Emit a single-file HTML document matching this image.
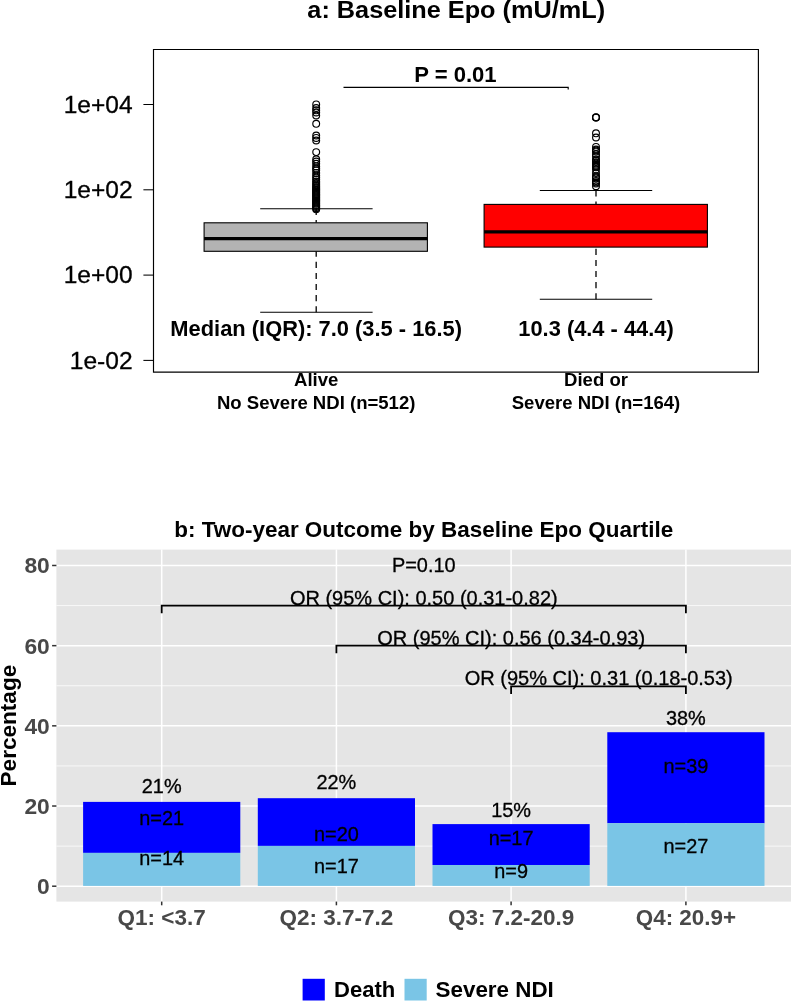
<!DOCTYPE html>
<html><head><meta charset="utf-8"><title>Figure</title>
<style>
html,body{margin:0;padding:0;background:#fff;}
body{width:791px;height:1002px;overflow:hidden;font-family:"Liberation Sans",sans-serif;}
svg{display:block;will-change:transform;}
svg text{font-family:"Liberation Sans",sans-serif;fill:#000;stroke:#000;stroke-width:0.3px;}
svg text.b{font-weight:bold;stroke:none;}
</style></head>
<body>
<svg width="791" height="1002" viewBox="0 0 791 1002">
<rect width="791" height="1002" fill="#fff"/>
<g id="top">
<text x="456.2" y="18.2" text-anchor="middle" font-size="24.8" class="b" textLength="297.74" lengthAdjust="spacingAndGlyphs">a: Baseline Epo (mU/mL)</text>
<path d="M153.5 49.5 H758.4 V372.1 H153.5 Z" fill="none" stroke="#000" stroke-width="1.15"/>
<line x1="143.4" x2="153.5" y1="104.5" y2="104.5" stroke="#000" stroke-width="1.05"/>
<text x="132.6" y="112.6" text-anchor="end" font-size="24.1" textLength="68.89" lengthAdjust="spacingAndGlyphs">1e+04</text>
<line x1="143.4" x2="153.5" y1="189.8" y2="189.8" stroke="#000" stroke-width="1.05"/>
<text x="132.6" y="197.9" text-anchor="end" font-size="24.1" textLength="68.89" lengthAdjust="spacingAndGlyphs">1e+02</text>
<line x1="143.4" x2="153.5" y1="275.1" y2="275.1" stroke="#000" stroke-width="1.05"/>
<text x="132.6" y="283.2" text-anchor="end" font-size="24.1" textLength="68.89" lengthAdjust="spacingAndGlyphs">1e+00</text>
<line x1="143.4" x2="153.5" y1="360.4" y2="360.4" stroke="#000" stroke-width="1.05"/>
<text x="132.6" y="368.5" text-anchor="end" font-size="24.1" textLength="62.84" lengthAdjust="spacingAndGlyphs">1e-02</text>
<path d="M343.5 87.4 H568.2 V89.6" fill="none" stroke="#000" stroke-width="1.15"/>
<text x="455.4" y="82.2" text-anchor="middle" font-size="21.8" class="b" textLength="82.42" lengthAdjust="spacingAndGlyphs">P = 0.01</text>
<line x1="316.2" x2="316.2" y1="208.8" y2="222.8" stroke="#000" stroke-width="1.3" stroke-dasharray="6.1 5"/>
<line x1="316.2" x2="316.2" y1="312.3" y2="251.3" stroke="#000" stroke-width="1.3" stroke-dasharray="6.1 5"/>
<line x1="260.2" x2="372.6" y1="208.8" y2="208.8" stroke="#000" stroke-width="1.1"/>
<line x1="260.2" x2="372.6" y1="312.3" y2="312.3" stroke="#000" stroke-width="1.1"/>
<rect x="204.1" y="222.8" width="223.29999999999998" height="28.50" fill="#b3b3b3" stroke="#000" stroke-width="1.1"/>
<line x1="204.1" x2="427.4" y1="238.6" y2="238.6" stroke="#000" stroke-width="3.3"/>
<line x1="596.0" x2="596.0" y1="190.5" y2="204.4" stroke="#000" stroke-width="1.3" stroke-dasharray="6.1 5"/>
<line x1="596.0" x2="596.0" y1="299.3" y2="247.1" stroke="#000" stroke-width="1.3" stroke-dasharray="6.1 5"/>
<line x1="539.8" x2="652.2" y1="190.5" y2="190.5" stroke="#000" stroke-width="1.1"/>
<line x1="539.8" x2="652.2" y1="299.3" y2="299.3" stroke="#000" stroke-width="1.1"/>
<rect x="484.1" y="204.4" width="223.29999999999995" height="42.70" fill="#ff0000" stroke="#000" stroke-width="1.1"/>
<line x1="484.1" x2="707.4" y1="231.9" y2="231.9" stroke="#000" stroke-width="3.3"/>
<circle cx="316.2" cy="104.4" r="3.4" fill="none" stroke="#000" stroke-width="1.15"/>
<circle cx="316.2" cy="108" r="3.4" fill="none" stroke="#000" stroke-width="1.15"/>
<circle cx="316.2" cy="110.3" r="3.4" fill="none" stroke="#000" stroke-width="1.15"/>
<circle cx="316.2" cy="112.5" r="3.4" fill="none" stroke="#000" stroke-width="1.15"/>
<circle cx="316.2" cy="115.5" r="3.4" fill="none" stroke="#000" stroke-width="1.15"/>
<circle cx="316.2" cy="123.8" r="3.4" fill="none" stroke="#000" stroke-width="1.15"/>
<circle cx="316.2" cy="135.5" r="3.4" fill="none" stroke="#000" stroke-width="1.15"/>
<circle cx="316.2" cy="137.9" r="3.4" fill="none" stroke="#000" stroke-width="1.15"/>
<circle cx="316.2" cy="140.5" r="3.4" fill="none" stroke="#000" stroke-width="1.15"/>
<circle cx="316.2" cy="152.1" r="3.4" fill="none" stroke="#000" stroke-width="1.15"/>
<circle cx="316.2" cy="159.3" r="3.4" fill="none" stroke="#000" stroke-width="1.15"/>
<circle cx="316.2" cy="161.5" r="3.4" fill="none" stroke="#000" stroke-width="1.15"/>
<circle cx="316.2" cy="163.8" r="3.4" fill="none" stroke="#000" stroke-width="1.15"/>
<circle cx="316.2" cy="166.4" r="3.4" fill="none" stroke="#000" stroke-width="1.15"/>
<circle cx="316.2" cy="168.5" r="3.4" fill="none" stroke="#000" stroke-width="1.15"/>
<circle cx="316.2" cy="170.3" r="3.4" fill="none" stroke="#000" stroke-width="1.15"/>
<circle cx="316.2" cy="172.9" r="3.4" fill="none" stroke="#000" stroke-width="1.15"/>
<circle cx="316.2" cy="175.5" r="3.4" fill="none" stroke="#000" stroke-width="1.15"/>
<circle cx="316.2" cy="177.5" r="3.4" fill="none" stroke="#000" stroke-width="1.15"/>
<circle cx="316.2" cy="179.4" r="3.4" fill="none" stroke="#000" stroke-width="1.15"/>
<circle cx="316.2" cy="181.5" r="3.4" fill="none" stroke="#000" stroke-width="1.15"/>
<circle cx="316.2" cy="183.0" r="3.4" fill="none" stroke="#000" stroke-width="1.15"/>
<circle cx="316.2" cy="184.6" r="3.4" fill="none" stroke="#000" stroke-width="1.15"/>
<circle cx="316.2" cy="186.0" r="3.4" fill="none" stroke="#000" stroke-width="1.15"/>
<circle cx="316.2" cy="187.3" r="3.4" fill="none" stroke="#000" stroke-width="1.15"/>
<circle cx="316.2" cy="188.4" r="3.4" fill="none" stroke="#000" stroke-width="1.15"/>
<circle cx="316.2" cy="189.6" r="3.4" fill="none" stroke="#000" stroke-width="1.15"/>
<circle cx="316.2" cy="190.6" r="3.4" fill="none" stroke="#000" stroke-width="1.15"/>
<circle cx="316.2" cy="191.7" r="3.4" fill="none" stroke="#000" stroke-width="1.15"/>
<circle cx="316.2" cy="192.8" r="3.4" fill="none" stroke="#000" stroke-width="1.15"/>
<circle cx="316.2" cy="193.9" r="3.4" fill="none" stroke="#000" stroke-width="1.15"/>
<circle cx="316.2" cy="195.0" r="3.4" fill="none" stroke="#000" stroke-width="1.15"/>
<circle cx="316.2" cy="196.1" r="3.4" fill="none" stroke="#000" stroke-width="1.15"/>
<circle cx="316.2" cy="197.2" r="3.4" fill="none" stroke="#000" stroke-width="1.15"/>
<circle cx="316.2" cy="198.3" r="3.4" fill="none" stroke="#000" stroke-width="1.15"/>
<circle cx="316.2" cy="199.4" r="3.4" fill="none" stroke="#000" stroke-width="1.15"/>
<circle cx="316.2" cy="200.5" r="3.4" fill="none" stroke="#000" stroke-width="1.15"/>
<circle cx="316.2" cy="201.6" r="3.4" fill="none" stroke="#000" stroke-width="1.15"/>
<circle cx="316.2" cy="202.7" r="3.4" fill="none" stroke="#000" stroke-width="1.15"/>
<circle cx="316.2" cy="203.8" r="3.4" fill="none" stroke="#000" stroke-width="1.15"/>
<circle cx="316.2" cy="204.9" r="3.4" fill="none" stroke="#000" stroke-width="1.15"/>
<circle cx="316.2" cy="206.0" r="3.4" fill="none" stroke="#000" stroke-width="1.15"/>
<circle cx="316.2" cy="207.1" r="3.4" fill="none" stroke="#000" stroke-width="1.15"/>
<circle cx="316.2" cy="208.2" r="3.4" fill="none" stroke="#000" stroke-width="1.15"/>
<circle cx="316.2" cy="209.3" r="3.4" fill="none" stroke="#000" stroke-width="1.15"/>
<circle cx="596.0" cy="117.2" r="3.4" fill="none" stroke="#000" stroke-width="1.15"/>
<circle cx="596.0" cy="117.4" r="3.4" fill="none" stroke="#000" stroke-width="1.15"/>
<circle cx="596.0" cy="117.6" r="3.4" fill="none" stroke="#000" stroke-width="1.15"/>
<circle cx="596.0" cy="150.5" r="3.4" fill="none" stroke="#000" stroke-width="1.15"/>
<circle cx="596.0" cy="160.4" r="3.4" fill="none" stroke="#000" stroke-width="1.15"/>
<circle cx="596.0" cy="163.5" r="3.4" fill="none" stroke="#000" stroke-width="1.15"/>
<circle cx="596.0" cy="165.8" r="3.4" fill="none" stroke="#000" stroke-width="1.15"/>
<circle cx="596.0" cy="166.5" r="3.4" fill="none" stroke="#000" stroke-width="1.15"/>
<circle cx="596.0" cy="177.2" r="3.4" fill="none" stroke="#000" stroke-width="1.15"/>
<circle cx="596.0" cy="182.3" r="3.4" fill="none" stroke="#000" stroke-width="1.15"/>
<circle cx="596.0" cy="133.3" r="3.4" fill="none" stroke="#000" stroke-width="1.15"/>
<circle cx="596.0" cy="137.5" r="3.4" fill="none" stroke="#000" stroke-width="1.15"/>
<circle cx="596.0" cy="146.9" r="3.4" fill="none" stroke="#000" stroke-width="1.15"/>
<circle cx="596.0" cy="149.5" r="3.4" fill="none" stroke="#000" stroke-width="1.15"/>
<circle cx="596.0" cy="151.6" r="3.4" fill="none" stroke="#000" stroke-width="1.15"/>
<circle cx="596.0" cy="154.2" r="3.4" fill="none" stroke="#000" stroke-width="1.15"/>
<circle cx="596.0" cy="156.3" r="3.4" fill="none" stroke="#000" stroke-width="1.15"/>
<circle cx="596.0" cy="159.5" r="3.4" fill="none" stroke="#000" stroke-width="1.15"/>
<circle cx="596.0" cy="162.1" r="3.4" fill="none" stroke="#000" stroke-width="1.15"/>
<circle cx="596.0" cy="164.7" r="3.4" fill="none" stroke="#000" stroke-width="1.15"/>
<circle cx="596.0" cy="167.3" r="3.4" fill="none" stroke="#000" stroke-width="1.15"/>
<circle cx="596.0" cy="169.4" r="3.4" fill="none" stroke="#000" stroke-width="1.15"/>
<circle cx="596.0" cy="173.1" r="3.4" fill="none" stroke="#000" stroke-width="1.15"/>
<circle cx="596.0" cy="176.2" r="3.4" fill="none" stroke="#000" stroke-width="1.15"/>
<circle cx="596.0" cy="178.3" r="3.4" fill="none" stroke="#000" stroke-width="1.15"/>
<circle cx="596.0" cy="180.9" r="3.4" fill="none" stroke="#000" stroke-width="1.15"/>
<circle cx="596.0" cy="183.5" r="3.4" fill="none" stroke="#000" stroke-width="1.15"/>
<circle cx="596.0" cy="186.2" r="3.4" fill="none" stroke="#000" stroke-width="1.15"/>
<text x="316.2" y="335.9" text-anchor="middle" font-size="21.8" class="b" textLength="291.64" lengthAdjust="spacingAndGlyphs">Median (IQR): 7.0 (3.5 - 16.5)</text>
<text x="596" y="335.9" text-anchor="middle" font-size="21.8" class="b" textLength="155.31" lengthAdjust="spacingAndGlyphs">10.3 (4.4 - 44.4)</text>
<text x="316.2" y="385.8" text-anchor="middle" font-size="18.4" class="b" textLength="44.38" lengthAdjust="spacingAndGlyphs">Alive</text>
<text x="316.2" y="408.8" text-anchor="middle" font-size="18.4" class="b" textLength="198.46" lengthAdjust="spacingAndGlyphs">No Severe NDI (n=512)</text>
<text x="596" y="385.8" text-anchor="middle" font-size="18.4" class="b" textLength="63.88" lengthAdjust="spacingAndGlyphs">Died or</text>
<text x="596" y="408.8" text-anchor="middle" font-size="18.4" class="b" textLength="168.62" lengthAdjust="spacingAndGlyphs">Severe NDI (n=164)</text>
</g>
<g id="bottom">
<text x="423.7" y="537.3" text-anchor="middle" font-size="22.35" class="b" textLength="498.96" lengthAdjust="spacingAndGlyphs">b: Two-year Outcome by Baseline Epo Quartile</text>
<rect x="56.4" y="549.6" width="734.6" height="352.00" fill="#e5e5e5"/>
<line x1="56.4" x2="791" y1="846.11" y2="846.11" stroke="#fff" stroke-width="0.75"/>
<line x1="56.4" x2="791" y1="765.93" y2="765.93" stroke="#fff" stroke-width="0.75"/>
<line x1="56.4" x2="791" y1="685.75" y2="685.75" stroke="#fff" stroke-width="0.75"/>
<line x1="56.4" x2="791" y1="605.57" y2="605.57" stroke="#fff" stroke-width="0.75"/>
<line x1="56.4" x2="791" y1="886.2" y2="886.2" stroke="#fff" stroke-width="1.5"/>
<line x1="52.1" x2="56.4" y1="886.2" y2="886.2" stroke="#333" stroke-width="1.5"/>
<text x="49.8" y="894.1" text-anchor="end" font-size="22.1" class="b" textLength="12.69" lengthAdjust="spacingAndGlyphs" style="fill:#484848">0</text>
<line x1="56.4" x2="791" y1="806.02" y2="806.02" stroke="#fff" stroke-width="1.5"/>
<line x1="52.1" x2="56.4" y1="806.02" y2="806.02" stroke="#333" stroke-width="1.5"/>
<text x="49.8" y="813.92" text-anchor="end" font-size="22.1" class="b" textLength="25.38" lengthAdjust="spacingAndGlyphs" style="fill:#484848">20</text>
<line x1="56.4" x2="791" y1="725.84" y2="725.84" stroke="#fff" stroke-width="1.5"/>
<line x1="52.1" x2="56.4" y1="725.84" y2="725.84" stroke="#333" stroke-width="1.5"/>
<text x="49.8" y="733.74" text-anchor="end" font-size="22.1" class="b" textLength="25.38" lengthAdjust="spacingAndGlyphs" style="fill:#484848">40</text>
<line x1="56.4" x2="791" y1="645.66" y2="645.66" stroke="#fff" stroke-width="1.5"/>
<line x1="52.1" x2="56.4" y1="645.66" y2="645.66" stroke="#333" stroke-width="1.5"/>
<text x="49.8" y="653.56" text-anchor="end" font-size="22.1" class="b" textLength="25.38" lengthAdjust="spacingAndGlyphs" style="fill:#484848">60</text>
<line x1="56.4" x2="791" y1="565.48" y2="565.48" stroke="#fff" stroke-width="1.5"/>
<line x1="52.1" x2="56.4" y1="565.48" y2="565.48" stroke="#333" stroke-width="1.5"/>
<text x="49.8" y="573.38" text-anchor="end" font-size="22.1" class="b" textLength="25.38" lengthAdjust="spacingAndGlyphs" style="fill:#484848">80</text>
<line x1="161.7" x2="161.7" y1="549.6" y2="901.6" stroke="#fff" stroke-width="1.5"/>
<line x1="161.7" x2="161.7" y1="901.6" y2="905.30" stroke="#333" stroke-width="1.5"/>
<line x1="336.4" x2="336.4" y1="549.6" y2="901.6" stroke="#fff" stroke-width="1.5"/>
<line x1="336.4" x2="336.4" y1="901.6" y2="905.30" stroke="#333" stroke-width="1.5"/>
<line x1="511.1" x2="511.1" y1="549.6" y2="901.6" stroke="#fff" stroke-width="1.5"/>
<line x1="511.1" x2="511.1" y1="901.6" y2="905.30" stroke="#333" stroke-width="1.5"/>
<line x1="685.9" x2="685.9" y1="549.6" y2="901.6" stroke="#fff" stroke-width="1.5"/>
<line x1="685.9" x2="685.9" y1="901.6" y2="905.30" stroke="#333" stroke-width="1.5"/>
<rect x="83.10" y="801.89" width="157.2" height="51.00" fill="#0000ff"/>
<rect x="83.10" y="852.89" width="157.2" height="33.01" fill="#7ac5e6"/>
<rect x="257.80" y="798.2" width="157.2" height="47.71" fill="#0000ff"/>
<rect x="257.80" y="845.91" width="157.2" height="39.99" fill="#7ac5e6"/>
<rect x="432.50" y="824.1" width="157.2" height="40.89" fill="#0000ff"/>
<rect x="432.50" y="864.99" width="157.2" height="20.91" fill="#7ac5e6"/>
<rect x="607.30" y="732.21" width="157.2" height="91.01" fill="#0000ff"/>
<rect x="607.30" y="823.22" width="157.2" height="62.68" fill="#7ac5e6"/>
<text x="161.7" y="793.1" text-anchor="middle" font-size="19.9">21%</text>
<text x="161.7" y="824.9" text-anchor="middle" font-size="19.9">n=21</text>
<text x="161.7" y="865.2" text-anchor="middle" font-size="19.9">n=14</text>
<text x="336.4" y="789.1" text-anchor="middle" font-size="19.9">22%</text>
<text x="336.4" y="840.9" text-anchor="middle" font-size="19.9">n=20</text>
<text x="336.4" y="872.9" text-anchor="middle" font-size="19.9">n=17</text>
<text x="511.1" y="816.6" text-anchor="middle" font-size="19.9">15%</text>
<text x="511.1" y="845.3" text-anchor="middle" font-size="19.9">n=17</text>
<text x="511.1" y="877.8" text-anchor="middle" font-size="19.9">n=9</text>
<text x="685.9" y="725.2" text-anchor="middle" font-size="19.9">38%</text>
<text x="685.9" y="772.9" text-anchor="middle" font-size="19.9">n=39</text>
<text x="685.9" y="853.0" text-anchor="middle" font-size="19.9">n=27</text>
<text x="423.8" y="572.4" text-anchor="middle" font-size="19.9">P=0.10</text>
<text x="423.8" y="604.7" text-anchor="middle" font-size="19.9" textLength="267.75" lengthAdjust="spacingAndGlyphs">OR (95% CI): 0.50 (0.31-0.82)</text>
<text x="511.2" y="644.9" text-anchor="middle" font-size="19.9" textLength="267.75" lengthAdjust="spacingAndGlyphs">OR (95% CI): 0.56 (0.34-0.93)</text>
<text x="598.7" y="684.8" text-anchor="middle" font-size="19.9" textLength="268.15" lengthAdjust="spacingAndGlyphs">OR (95% CI): 0.31 (0.18-0.53)</text>
<path d="M161.7 613.2 V605.6 H685.9 V613.2" fill="none" stroke="#000" stroke-width="1.8"/>
<path d="M336.4 653.3 V645.7 H685.9 V653.3" fill="none" stroke="#000" stroke-width="1.8"/>
<path d="M511.1 693.9 V686.3 H685.9 V693.9" fill="none" stroke="#000" stroke-width="1.8"/>
<text x="161.7" y="925" text-anchor="middle" font-size="22.1" class="b" textLength="88.21" lengthAdjust="spacingAndGlyphs" style="fill:#484848">Q1: &lt;3.7</text>
<text x="336.4" y="925" text-anchor="middle" font-size="22.1" class="b" textLength="113.78" lengthAdjust="spacingAndGlyphs" style="fill:#484848">Q2: 3.7-7.2</text>
<text x="511.1" y="925" text-anchor="middle" font-size="22.1" class="b" textLength="126.28" lengthAdjust="spacingAndGlyphs" style="fill:#484848">Q3: 7.2-20.9</text>
<text x="685.9" y="925" text-anchor="middle" font-size="22.1" class="b" textLength="100.30" lengthAdjust="spacingAndGlyphs" style="fill:#484848">Q4: 20.9+</text>
<text transform="translate(15.9 725.6) rotate(-90)" text-anchor="middle" font-size="22.1" class="b" textLength="121.66" lengthAdjust="spacingAndGlyphs">Percentage</text>
<rect x="302.6" y="978.8" width="22.2" height="21.7" fill="#0000ff"/>
<text x="334" y="997.4" font-size="22" class="b" textLength="61.22" lengthAdjust="spacingAndGlyphs">Death</text>
<rect x="404.5" y="978.8" width="22.2" height="21.7" fill="#7ac5e6"/>
<text x="435.6" y="997.4" font-size="22" class="b" textLength="118.18" lengthAdjust="spacingAndGlyphs">Severe NDI</text>
</g>
</svg>
</body></html>
